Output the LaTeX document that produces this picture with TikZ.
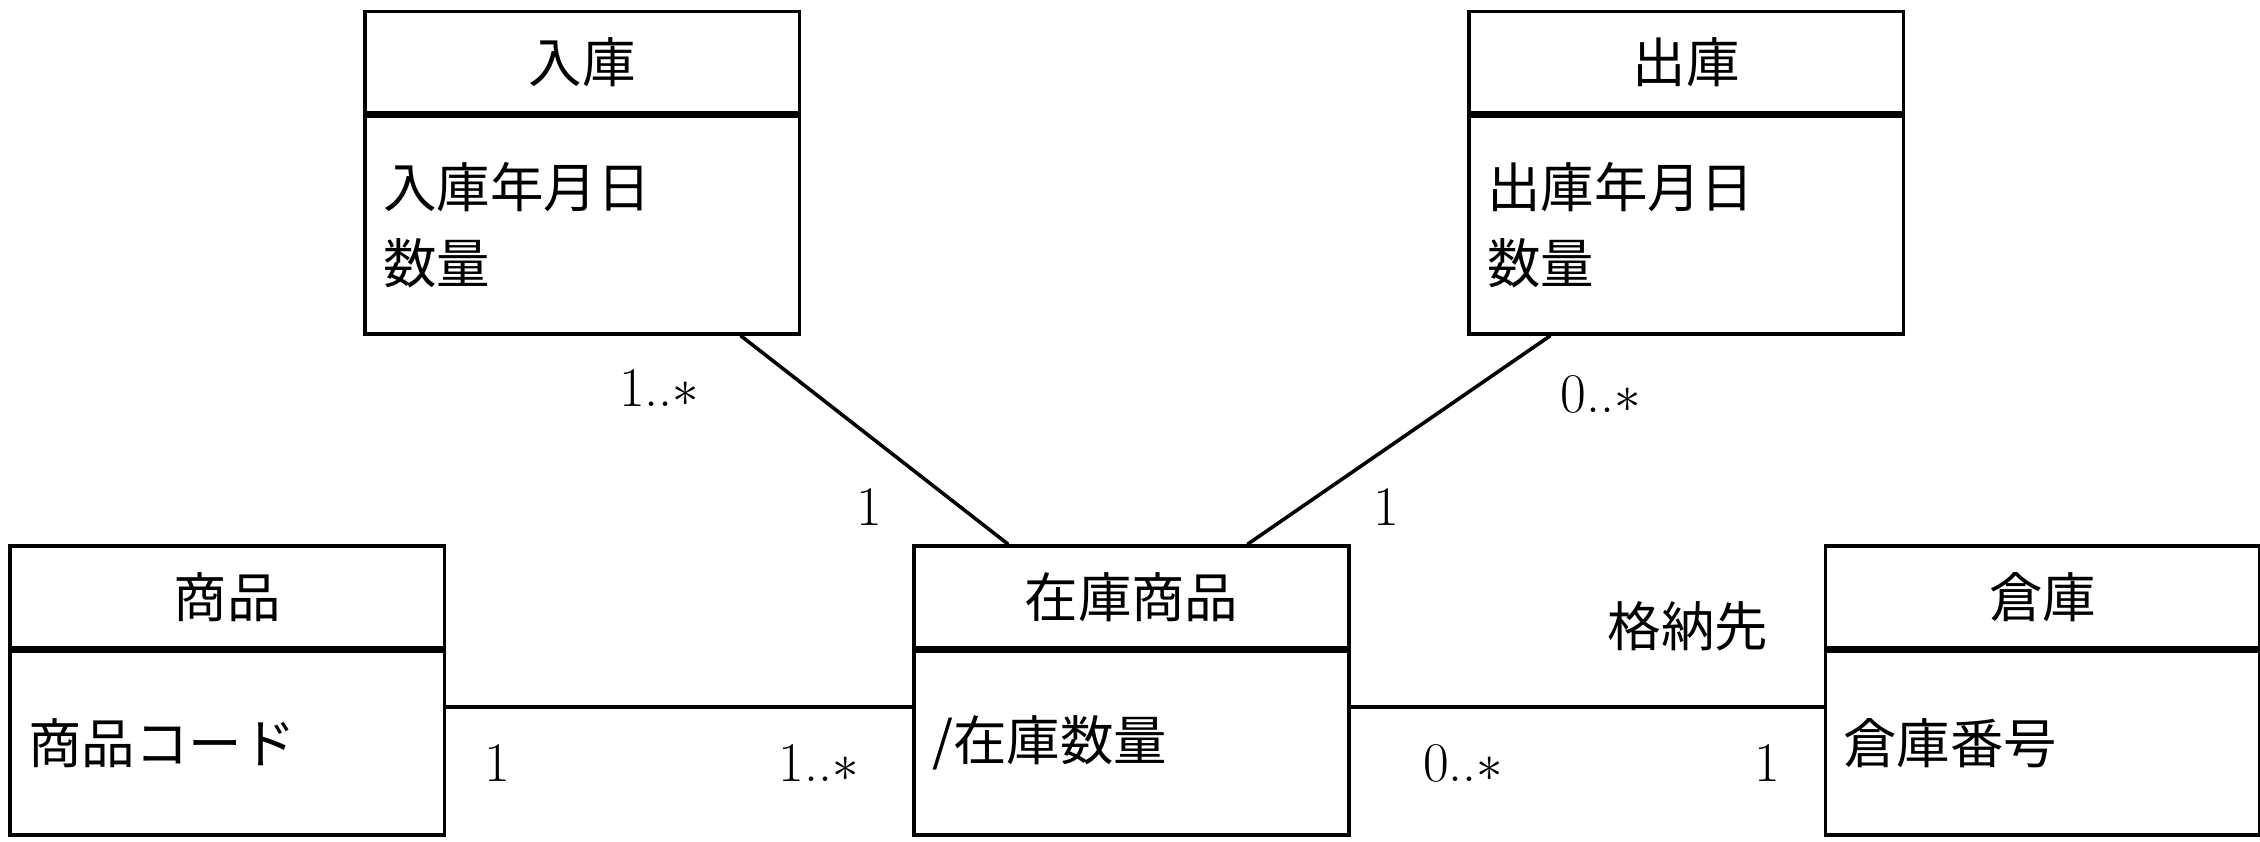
\documentclass[tikz,border=0pt]{standalone}
\usepackage{fontspec}
\newfontfamily\cjk{Noto Sans CJK JP}
\usetikzlibrary{positioning,calc}
\tikzset{
  head/.style={draw, line width=1.4pt, minimum width=6cm, minimum height=1.4cm, inner sep=0pt, font=\fontsize{21}{26}\selectfont\cjk},
  body/.style={draw, line width=1.4pt, minimum width=6cm, text width=5.5cm, align=left, inner sep=0pt, font=\fontsize{21}{30}\selectfont\cjk},
  assoc/.style={line width=1.4pt},
  mult/.style={font=\fontsize{22}{26}\selectfont}
}
\begin{document}
\begin{tikzpicture}[x=0.02cm,y=-0.02cm]
  \useasboundingbox (0,0) rectangle (1560,581);
  % classes
  \node[head] (nyuko) at (402,43) {入庫};
  \node[body, minimum height=3cm, below=0pt of nyuko] (nyuko-b) {入庫年月日\\数量};
  \node[head] (shukko) at (1164,43) {出庫};
  \node[body, minimum height=3cm, below=0pt of shukko] (shukko-b) {出庫年月日\\数量};
  \node[head] (shohin) at (157,412) {商品};
  \node[body, minimum height=2.54cm, below=0pt of shohin] (shohin-b) {商品コード};
  \node[head] (zaiko) at (781,412) {在庫商品};
  \node[body, minimum height=2.54cm, below=0pt of zaiko] (zaiko-b) {/在庫数量};
  \node[head] (soko) at (1410,412) {倉庫};
  \node[body, minimum height=2.54cm, below=0pt of soko] (soko-b) {倉庫番号};

  % associations
  \draw[assoc] ([xshift=-0.84cm]nyuko-b.south east) -- ([xshift=-1.7cm]zaiko.north);
  \draw[assoc] ([xshift=-4.9cm]shukko-b.south east) -- ([xshift=1.6cm]zaiko.north);
  \draw[assoc] ([yshift=0.5cm]shohin-b.east) -- ([yshift=0.5cm]zaiko-b.west);
  \draw[assoc] ([yshift=0.5cm]zaiko-b.east) -- ([yshift=0.5cm]soko-b.west);

  % multiplicities
  \node[mult] (m1) at (455,268) {1..$*$};
  \node[mult] (m2) at (600,350) {1};
  \node[mult] (m3) at (1105,272) {0..$*$};
  \node[mult] (m4) at (957,350) {1};
  \node[mult] (m5) at (343,527) {1};
  \node[mult] (m6) at (565,527) {1..$*$};
  \node[mult] (m7) at (1010,527) {0..$*$};
  \node[mult] (m8) at (1220,527) {1};
  \node[font=\fontsize{21}{26}\selectfont\cjk] (role) at (1165,432) {格納先};
\end{tikzpicture}
\end{document}
